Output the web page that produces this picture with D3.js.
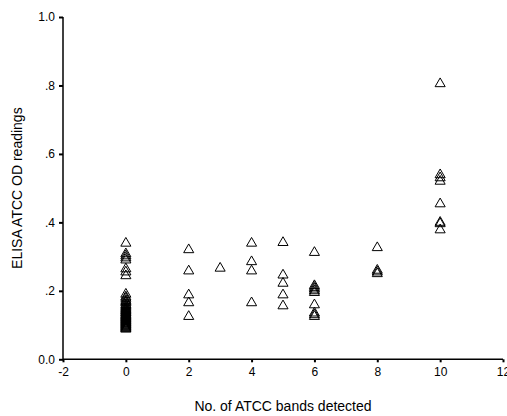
<!DOCTYPE html>
<html>
<head>
<meta charset="utf-8">
<script src="https://cdn.jsdelivr.net/npm/d3@7"></script>
<style>
  html, body { margin: 0; padding: 0; background: #fff; }
  svg { display: block; }
  text { font-family: "Liberation Sans", Arial, sans-serif; fill: #000; }
</style>
</head>
<body>
<svg id="chart" width="507" height="416"></svg>
<script>
// ---- data ----
const xTicks = [-2, 0, 2, 4, 6, 8, 10, 12];
const xTickLabels = ["-2", "0", "2", "4", "6", "8", "10", "12"];
const yTicks = [0, 0.2, 0.4, 0.6, 0.8, 1.0];
const yTickLabels = ["0.0", ".2", ".4", ".6", ".8", "1.0"];

const bands0 = [0.339, 0.308, 0.302, 0.296, 0.290, 0.264, 0.255, 0.244,
  0.190, 0.182, 0.178, 0.172, 0.168, 0.165, 0.160, 0.157, 0.153, 0.150, 0.147,
  0.145, 0.142, 0.140, 0.137, 0.135, 0.132, 0.130, 0.128, 0.126, 0.124, 0.122,
  0.120, 0.118, 0.116, 0.114, 0.112, 0.110, 0.108, 0.106, 0.104, 0.102, 0.100,
  0.098, 0.096, 0.094, 0.092, 0.090, 0.088];
const bands2 = [0.320, 0.258, 0.188, 0.165, 0.125];
const bands3 = [0.266];
const bands4 = [0.339, 0.285, 0.258, 0.165];
const bands5 = [0.341, 0.246, 0.222, 0.188, 0.156];
const bands6 = [0.312, 0.215, 0.210, 0.205, 0.200, 0.195, 0.159, 0.135, 0.130, 0.125];
const bands8 = [0.326, 0.260, 0.255, 0.250];
const bands10 = [0.805, 0.539, 0.530, 0.520, 0.454, 0.400, 0.396, 0.378];

const groups = [
  [0, bands0], [2, bands2], [3, bands3], [4, bands4],
  [5, bands5], [6, bands6], [8, bands8], [10, bands10]
];
const points = [];
groups.forEach(([b, vals]) => vals.forEach(v => points.push({x: b, y: v})));

// ---- chart ----
const svg = d3.select("#chart");
const x = d3.scaleLinear().domain([-2, 12]).range([63, 503]);
const y = d3.scaleLinear().domain([0, 1]).range([359.3, 17]);

// y axis
const yAxis = svg.append("g").attr("transform", `translate(${x(-2)},0)`)
  .call(d3.axisLeft(y).tickValues(yTicks).tickSize(4).tickPadding(4)
    .tickFormat((d, i) => yTickLabels[i]));
yAxis.select(".domain").attr("d", `M0,${y(1)}V${y(0)}`).attr("stroke", "#000").attr("stroke-width", 1.5);
yAxis.selectAll(".tick line").attr("stroke", "#000").attr("stroke-width", 2);
yAxis.selectAll(".tick text").style("font-size", "12px").attr("fill", "#000");

// x axis
const xAxis = svg.append("g").attr("transform", `translate(0,${y(0)})`)
  .call(d3.axisBottom(x).tickValues(xTicks).tickSize(3).tickPadding(5)
    .tickFormat((d, i) => xTickLabels[i]));
xAxis.select(".domain").attr("d", `M${x(-2)},0H${x(12)}`).attr("stroke", "#000").attr("stroke-width", 1.5);
xAxis.selectAll(".tick line").attr("stroke", "#000").attr("stroke-width", 2);
xAxis.selectAll(".tick text").style("font-size", "12px").attr("fill", "#000");

// points
const tri = d3.symbol().type(d3.symbolTriangle).size(44);
svg.append("g").selectAll("path").data(points).join("path")
  .attr("d", tri)
  .attr("transform", d => `translate(${x(d.x)},${y(d.y)})`)
  .attr("fill", "none")
  .attr("stroke", "#000")
  .attr("stroke-width", 1);

// titles
svg.append("text")
  .attr("x", (x(-2) + x(12)) / 2).attr("y", 411)
  .attr("text-anchor", "middle").style("font-size", "14px")
  .text("No. of ATCC bands detected");
svg.append("text")
  .attr("transform", `translate(22,${(y(0) + y(1)) / 2}) rotate(-90)`)
  .attr("text-anchor", "middle").style("font-size", "14px")
  .text("ELISA ATCC OD readings");
</script>
</body>
</html>
